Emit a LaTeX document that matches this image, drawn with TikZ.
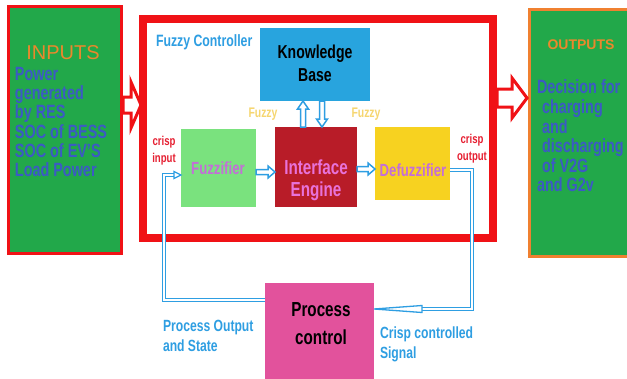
\documentclass[tikz,border=0pt]{standalone}
\usepackage{fontspec}
\setmainfont{Liberation Sans}[FakeStretch=0.75]
\newfontfamily\widefont{Liberation Sans}
\usetikzlibrary{calc}
\definecolor{gbox}{RGB}{34,168,74}
\definecolor{rframe}{RGB}{240,18,22}
\definecolor{oborder}{RGB}{240,128,48}
\definecolor{otext}{RGB}{234,136,44}
\definecolor{btext}{RGB}{60,90,196}
\definecolor{lblue}{RGB}{46,158,226}
\definecolor{kbfill}{RGB}{40,164,222}
\definecolor{fzfill}{RGB}{122,226,126}
\definecolor{iefill}{RGB}{184,28,40}
\definecolor{dffill}{RGB}{247,210,32}
\definecolor{pcfill}{RGB}{226,82,156}
\definecolor{vtext}{RGB}{196,110,216}
\definecolor{ietext}{RGB}{232,114,218}
\definecolor{fuzzyy}{RGB}{246,214,112}
\definecolor{crispr}{RGB}{230,32,50}
% horizontal block arrow: style, start, length, shaft half width, head half width, head length
\newcommand\hblock[6]{\draw[#1] #2 +(0,-#4) -- +({#3-(#6)},-#4) -- +({#3-(#6)},-#5) -- +(#3,0) -- +({#3-(#6)},#5) -- +({#3-(#6)},#4) -- +(0,#4) -- cycle;}
\newcommand\vblock[6]{\draw[#1] #2 +(-#4,0) -- +(-#4,{#3-(#6)}) -- +(-#5,{#3-(#6)}) -- +(0,#3) -- +(#5,{#3-(#6)}) -- +(#4,{#3-(#6)}) -- +(#4,0) -- cycle;}
\tikzset{
  box/.style={rectangle, inner sep=0pt, outer sep=0pt, anchor=north west},
  redarrow/.style={draw=rframe, line width=3pt, fill=white, line join=miter},
  bluearrow/.style={draw=lblue, line width=1.5pt, fill=white, line join=miter},
  dbl/.style={draw=lblue, double=white, double distance=1.6pt, line width=1.3pt},
  ahead/.style={draw=lblue, line width=1.3pt, fill=white, line join=miter},
  txt/.style={inner sep=0pt, outer sep=0pt},
}
\begin{document}
\begin{tikzpicture}[x=1pt,y=-1pt]
\useasboundingbox[fill=white] (0,0) rectangle (627,378);
% outer boxes
\node[box, draw=rframe, fill=gbox, line width=3pt, minimum width=113pt, minimum height=247pt] (inp) at (8.5,6.5) {};
\node[box, draw=oborder, fill=gbox, line width=3pt, minimum width=120pt, minimum height=247pt] (outp) at (529.5,9.5) {};
% red block arrows
\hblock{redarrow}{($(inp.north east)+(1.5,98.5)$)}{18}{8}{23}{10}
% fuzzy controller frame
\node[box, draw=rframe, line width=8pt, minimum width=350pt, minimum height=219pt] (fc) at (143,19) {};
\hblock{redarrow}{($(fc.north east)+(4,79)$)}{30}{9}{20}{15}
% inner blocks
\node[box, fill=kbfill, minimum width=110pt, minimum height=73pt] (kb) at (260,28) {};
\node[box, fill=fzfill, minimum width=75pt, minimum height=78pt] (fz) at (181,129) {};
\node[box, fill=iefill, minimum width=82pt, minimum height=80pt] (ie) at (275,127) {};
\node[box, fill=dffill, minimum width=75pt, minimum height=73pt] (df) at (375,127) {};
\node[box, fill=pcfill, minimum width=109pt, minimum height=97pt] (pc) at (265,283) {};
% blue block arrows
\hblock{bluearrow}{($(fz.east)+(0,4)$)}{19}{2.5}{6}{7}
\hblock{bluearrow}{($(ie.east)+(0,2)$)}{18}{2.5}{6}{7}
\vblock{bluearrow}{($(ie.north west)+(28,0)$)}{-26}{2.5}{5.5}{-8}
\vblock{bluearrow}{($(kb.south west)+(62,0)$)}{26}{2.5}{5.5}{8}
% feedback loop lines
\draw[dbl] ($(pc.north west)+(0,17)$) -| ($(fz.north west)+(-17,46)$) -- ($(fz.north west)+(-6,46)$);
\draw[ahead] ($(fz.north west)+(0,46)$) -- ++(-7,-3.5) -- ++(0,7) -- cycle;
\draw[dbl] ($(df.north east)+(0,43)$) -| ($(pc.north east)+(98,26)$) -- ($(pc.north east)+(47,26)$);
\draw[ahead] ($(pc.north east)+(0,26)$) -- ++(48,-3.5) -- ++(0,7) -- cycle;
% texts
\node[txt, text=otext, font=\widefont\fontsize{20}{22}\selectfont] (tin) at (63,53) {INPUTS};
\node[txt, anchor=north west, align=left, text=btext, font=\bfseries\fontsize{19.2}{19.3}\selectfont] (tinl) at (15,67) {Power\\generated\\by RES\\SOC of BESS\\SOC of EV'S\\Load Power};
\node[txt, text=otext, font=\widefont\bfseries\fontsize{14}{16}\selectfont] (tout) at (581,45) {OUTPUTS};
\node[txt, anchor=north west, align=left, text=btext, font=\bfseries\fontsize{19.2}{19.6}\selectfont] (toutl) at (537,80) {Decision for\\\hspace*{5pt}charging\\\hspace*{5pt}and\\\hspace*{5pt}discharging\\\hspace*{5pt}of V2G\\and G2v};
\node[txt, anchor=west, text=lblue, font=\bfseries\fontsize{16.4}{16}\selectfont] (tfc) at (156,42) {Fuzzy Controller};
\node[txt, align=center, font=\bfseries\fontsize{18.7}{23}\selectfont] (tkb) at (315,63) {Knowledge\\Base};
\node[txt, text=vtext, font=\bfseries\fontsize{17.6}{18}\selectfont] (tfz) at (218,168) {Fuzzifier};
\node[txt, align=center, text=ietext, font=\bfseries\fontsize{20.3}{22}\selectfont] (tie) at (316,180) {Interface\\Engine};
\node[txt, text=vtext, font=\bfseries\fontsize{17.6}{18}\selectfont] (tdf) at (413,170) {Defuzzifier};
\node[txt, text=fuzzyy, font=\bfseries\fontsize{13.9}{14}\selectfont] (tfy1) at (263,114) {Fuzzy};
\node[txt, text=fuzzyy, font=\bfseries\fontsize{13.9}{14}\selectfont] (tfy2) at (366,114) {Fuzzy};
\node[txt, align=center, text=crispr, font=\bfseries\fontsize{12.8}{17}\selectfont] (tci) at (164,151) {crisp\\input};
\node[txt, align=center, text=crispr, font=\bfseries\fontsize{12.8}{17}\selectfont] (tco) at (472,149) {crisp\\output};
\node[txt, align=center, font=\bfseries\fontsize{20.3}{28}\selectfont] (tpc) at (321,324) {Process\\control};
\node[txt, anchor=north west, align=left, text=lblue, font=\bfseries\fontsize{16.2}{20}\selectfont] (tpo) at (163,320) {Process Output\\and State};
\node[txt, anchor=north west, align=left, text=lblue, font=\bfseries\fontsize{16.2}{19.5}\selectfont] (tcs) at (380,327) {Crisp controlled\\Signal};
\end{tikzpicture}
\end{document}
